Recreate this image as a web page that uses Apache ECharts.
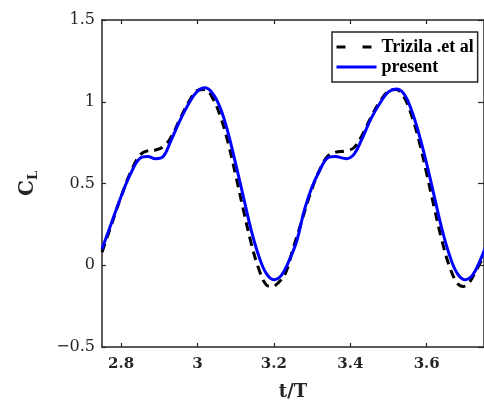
<!DOCTYPE html>
<html><head><meta charset="utf-8">
<script src="https://cdn.jsdelivr.net/npm/echarts@6/dist/echarts.min.js"></script>
<style>html,body{margin:0;padding:0;background:#fff}#c{width:484px;height:406px}</style>
</head><body><div id="c"></div>
<script>
const xTicks = [2.8, 3, 3.2, 3.4, 3.6];
const yTicks = [-0.5, 0, 0.5, 1, 1.5];

const trizilaT = [2.75,2.775,2.80,2.825,2.85,2.87,2.89,2.91,2.93,2.955,2.98,3.00,3.02,3.04,3.06,3.08,3.10,3.12,3.14,3.16,3.18,3.195,3.21,3.23,3.25,3.27,3.30,3.32,3.34,3.36,3.39,3.41,3.43,3.455,3.48,3.50,3.52,3.54,3.56,3.58,3.60,3.62,3.64,3.66,3.68,3.695,3.71,3.73,3.75];
const trizilaCL = [0.08,0.25,0.42,0.57,0.675,0.70,0.705,0.725,0.78,0.90,1.01,1.07,1.075,1.02,0.91,0.75,0.55,0.34,0.14,-0.02,-0.12,-0.13,-0.11,-0.05,0.10,0.25,0.47,0.585,0.665,0.69,0.70,0.72,0.79,0.91,1.01,1.065,1.075,1.03,0.92,0.76,0.56,0.35,0.15,-0.01,-0.11,-0.13,-0.11,-0.03,0.06];

const presentT = [2.75,2.775,2.80,2.825,2.85,2.87,2.89,2.91,2.93,2.955,2.98,3.00,3.02,3.04,3.06,3.08,3.10,3.12,3.14,3.16,3.18,3.20,3.22,3.24,3.26,3.28,3.30,3.32,3.34,3.36,3.39,3.41,3.43,3.455,3.48,3.50,3.52,3.54,3.56,3.58,3.60,3.62,3.64,3.66,3.68,3.70,3.72,3.74,3.76];
const presentCL = [0.10,0.26,0.42,0.56,0.655,0.665,0.652,0.665,0.76,0.89,1.00,1.065,1.085,1.05,0.96,0.81,0.62,0.42,0.22,0.06,-0.05,-0.088,-0.06,0.03,0.15,0.34,0.48,0.58,0.655,0.665,0.652,0.68,0.77,0.90,1.00,1.06,1.078,1.05,0.95,0.80,0.62,0.42,0.22,0.06,-0.05,-0.088,-0.06,0.03,0.15];

const zip = (a, b) => a.map((v, i) => [v, b[i]]);
const AX = '#262626';
const FONT = 'DejaVu Serif';
const LFONT = 'Liberation Serif';

const chart = echarts.init(document.getElementById('c'), null, {renderer: 'canvas'});
chart.setOption({
  animation: false,
  backgroundColor: '#fff',
  grid: {left: 102, top: 20, right: -4, bottom: 56, containLabel: false},
  legend: {
    left: 332, top: 32, orient: 'vertical',
    backgroundColor: '#fff', borderColor: AX, borderWidth: 1.5,
    padding: [6, 4, 6, 3], itemGap: 2, itemWidth: 40, itemHeight: 14,
    itemStyle: {opacity: 0},
    textStyle: {fontFamily: LFONT, fontWeight: 'bold', fontSize: 18, lineHeight: 16, color: '#000'},
    data: [
      {name: 'Trizila .et al', lineStyle: {type: [9, 17], width: 3}},
      {name: 'present', lineStyle: {width: 3}}
    ]
  },
  xAxis: [{
    type: 'value', min: 2.75, max: 3.75,
    axisLine: {show: true, onZero: false, lineStyle: {color: AX, width: 1.5}},
    axisTick: {show: true, inside: true, length: 4, customValues: xTicks, lineStyle: {color: AX, width: 1.2}},
    axisLabel: {customValues: xTicks, margin: 10, fontFamily: FONT, fontWeight: 'bold', fontSize: 15, color: '#262626'},
    splitLine: {show: false},
    name: 't/T', nameLocation: 'middle', nameGap: 36,
    nameTextStyle: {fontFamily: FONT, fontWeight: 'bold', fontSize: 18, color: '#262626'}
  }, {
    type: 'value', min: 2.75, max: 3.75, position: 'top',
    axisLine: {show: true, onZero: false, lineStyle: {color: AX, width: 1.5}},
    axisTick: {show: true, inside: true, length: 4, customValues: xTicks, lineStyle: {color: AX, width: 1.2}},
    axisLabel: {show: false}, splitLine: {show: false}
  }],
  yAxis: [{
    type: 'value', min: -0.5, max: 1.5, interval: 0.5,
    axisLine: {show: true, onZero: false, lineStyle: {color: AX, width: 1.5}},
    axisTick: {show: true, inside: true, length: 4, lineStyle: {color: AX, width: 1.2}},
    axisLabel: {margin: 7, fontFamily: FONT, fontSize: 16, color: '#262626',
      formatter: v => String(v).replace('-', '\u2212')},
    splitLine: {show: false},
    name: 'C{s|L}', nameLocation: 'middle', nameGap: 62, nameRotate: 90,
    nameTextStyle: {fontFamily: FONT, fontWeight: 'bold', fontSize: 20, color: '#262626',
      rich: {s: {fontFamily: FONT, fontWeight: 'bold', fontSize: 13, color: '#262626', verticalAlign: 'bottom', padding: [12,0,0,0]}}}
  }, {
    type: 'value', min: -0.5, max: 1.5, interval: 0.5, position: 'right',
    axisLine: {show: true, onZero: false, lineStyle: {color: AX, width: 1.5}},
    axisTick: {show: true, inside: true, length: 6, lineStyle: {color: AX, width: 1.2}},
    axisLabel: {show: false}, splitLine: {show: false}
  }],
  series: [{
    name: 'Trizila .et al', type: 'line', smooth: 0.4, symbol: 'none',
    data: zip(trizilaT, trizilaCL), clip: true,
    lineStyle: {color: '#000', width: 3, type: [9, 6]}, itemStyle: {color: '#000'}
  }, {
    name: 'present', type: 'line', smooth: 0.4, symbol: 'none',
    data: zip(presentT, presentCL), clip: true,
    lineStyle: {color: '#0000ff', width: 3}, itemStyle: {color: '#0000ff'}
  }]
});
</script></body></html>
